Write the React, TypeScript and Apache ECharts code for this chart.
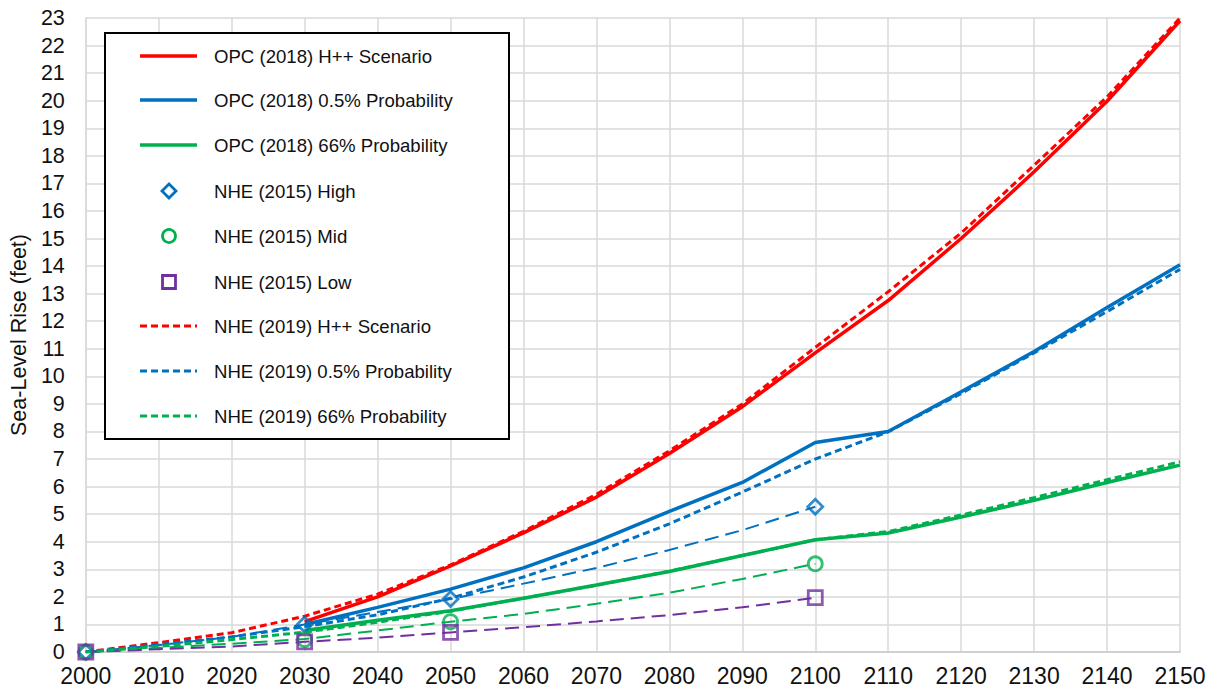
import React, { useEffect, useRef } from "react";
import * as echarts from "echarts";

// ---- data ----
const opcYears = [2030, 2040, 2050, 2060, 2070, 2080, 2090, 2100, 2110, 2120, 2130, 2140, 2150];
const opcHpp = [1.1, 2.0, 3.12, 4.32, 5.62, 7.2, 8.9, 10.85, 12.75, 15.0, 17.42, 19.98, 22.9];
const opcHigh = [1.0, 1.62, 2.28, 3.05, 4.0, 5.1, 6.15, 7.6, 8.0, 9.44, 10.9, 12.5, 14.05];
const opcLow = [0.78, 1.15, 1.5, 1.95, 2.43, 2.92, 3.5, 4.07, 4.32, 4.9, 5.5, 6.15, 6.78];

const nhe19Years = [2000, 2010, 2020, 2030, 2040, 2050, 2060, 2070, 2080, 2090, 2100, 2110, 2120, 2130, 2140, 2150];
const nhe19Hpp = [0, 0.34, 0.7, 1.3, 2.1, 3.16, 4.38, 5.72, 7.3, 9.0, 11.05, 13.07, 15.2, 17.66, 20.14, 23.0];
const nhe19High = [0, 0.27, 0.55, 0.92, 1.35, 1.95, 2.72, 3.62, 4.65, 5.8, 7.0, 7.99, 9.38, 10.85, 12.35, 13.88];
const nhe19Low = [0, 0.2, 0.45, 0.72, 1.08, 1.48, 1.95, 2.42, 2.93, 3.5, 4.07, 4.37, 4.97, 5.6, 6.25, 6.9];

const nhe15LineYears = [2000, 2010, 2020, 2030, 2040, 2050, 2060, 2070, 2080, 2090, 2100];
const nhe15HighLine = [0, 0.25, 0.55, 1.0, 1.45, 1.92, 2.48, 3.05, 3.7, 4.42, 5.27];
const nhe15MidLine = [0, 0.15, 0.3, 0.47, 0.78, 1.1, 1.38, 1.75, 2.15, 2.65, 3.2];
const nhe15LowLine = [0, 0.1, 0.2, 0.37, 0.52, 0.71, 0.9, 1.11, 1.34, 1.62, 1.97];

const nhe15MarkYears = [2000, 2030, 2050, 2100];
const nhe15HighMarks = [0, 1.0, 1.92, 5.27];
const nhe15MidMarks = [0, 0.45, 1.1, 3.2];
const nhe15LowMarks = [0, 0.37, 0.71, 1.97];

const legendNames = [
  "OPC (2018) H++ Scenario",
  "OPC (2018) 0.5% Probability",
  "OPC (2018) 66% Probability",
  "NHE (2015) High",
  "NHE (2015) Mid",
  "NHE (2015) Low",
  "NHE (2019) H++ Scenario",
  "NHE (2019) 0.5% Probability",
  "NHE (2019) 66% Probability",
];

const RED = "#FF0000";
const BLUE = "#0070C0";
const GREEN = "#00B050";
const PURPLE = "#7030A0";
const FONT = "'Liberation Sans', Arial, sans-serif";

const zip = (xs: number[], ys: number[]) => xs.map((x, i) => [x, ys[i]]);

export default function App() {
  const ref = useRef<HTMLDivElement>(null);
  useEffect(() => {
    if (!ref.current) return;
    const chart = echarts.init(ref.current, undefined, { renderer: "svg" });

    const solid = (name: string, color: string, data: number[]) => ({
      name,
      type: "line",
      data: zip(opcYears, data),
      showSymbol: false,
      symbol: "none",
      lineStyle: { color, width: 3.5, type: "solid" },
      itemStyle: { color },
      z: 3,
    });
    const dashed = (name: string, color: string, data: number[]) => ({
      name,
      type: "line",
      data: zip(nhe19Years, data),
      showSymbol: false,
      symbol: "none",
      lineStyle: { color, width: 3, type: [7, 4] },
      itemStyle: { color },
      z: 4,
    });
    const thin = (color: string, data: number[]) => ({
      type: "line",
      data: zip(nhe15LineYears, data),
      showSymbol: false,
      symbol: "none",
      lineStyle: { color, width: 2, type: [14, 7] },
      itemStyle: { color },
      z: 2,
    });
    const marks = (name: string, color: string, symbol: string, size: number, data: number[]) => ({
      name,
      type: "scatter",
      data: zip(nhe15MarkYears, data),
      symbol,
      symbolSize: size,
      itemStyle: { color: "rgba(0,0,0,0)", borderColor: color, borderWidth: 2.8 },
      z: 5,
    });

    // legend drawn as graphics
    const rowY = [56, 100, 145, 191, 236, 282, 326, 371, 416];
    const legendEls: any[] = [
      {
        type: "rect",
        shape: { x: 105, y: 33, width: 404, height: 406 },
        style: { fill: "#fff", stroke: "#000", lineWidth: 2 },
      },
    ];
    const lineItems: [number, string, number[] | null][] = [
      [0, RED, null],
      [1, BLUE, null],
      [2, GREEN, null],
      [6, RED, [7, 4]],
      [7, BLUE, [7, 4]],
      [8, GREEN, [7, 4]],
    ];
    lineItems.forEach(([i, c, dash]) => {
      legendEls.push({
        type: "line",
        shape: { x1: 140, y1: rowY[i], x2: 197, y2: rowY[i] },
        style: { stroke: c, lineWidth: dash ? 3 : 3.5, lineDash: dash || undefined },
      });
    });
    const cx = 169;
    legendEls.push({
      type: "polygon",
      shape: { points: [[cx, rowY[3] - 7], [cx + 7, rowY[3]], [cx, rowY[3] + 7], [cx - 7, rowY[3]]] },
      style: { fill: "none", stroke: BLUE, lineWidth: 2.8 },
    });
    legendEls.push({
      type: "circle",
      shape: { cx, cy: rowY[4], r: 6.5 },
      style: { fill: "none", stroke: GREEN, lineWidth: 2.8 },
    });
    legendEls.push({
      type: "rect",
      shape: { x: cx - 6.5, y: rowY[5] - 6.5, width: 13, height: 13 },
      style: { fill: "none", stroke: PURPLE, lineWidth: 2.8 },
    });
    legendNames.forEach((n, i) => {
      legendEls.push({
        type: "text",
        x: 214,
        y: rowY[i],
        style: {
          text: n,
          font: `18.6px ${FONT}`,
          fill: "#111",
          align: "left",
          verticalAlign: "middle",
        },
      });
    });

    chart.setOption({
      animation: false,
      backgroundColor: "#fff",
      grid: { left: 83, right: 38, top: 18, bottom: 42, containLabel: false },
      xAxis: {
        type: "value",
        min: 2000,
        max: 2150,
        interval: 10,
        axisLine: { show: true, lineStyle: { color: "#D0D0D0", width: 2 } },
        axisTick: { show: false },
        axisLabel: {
          formatter: (v: number) => String(v),
          color: "#111",
          fontSize: 23,
          fontFamily: FONT,
          margin: 12,
        },
        splitLine: { show: true, lineStyle: { color: "#D9D9D9", width: 1.5 } },
      },
      yAxis: {
        type: "value",
        min: 0,
        max: 23,
        interval: 1,
        name: "Sea-Level Rise (feet)",
        nameLocation: "middle",
        nameRotate: 90,
        nameGap: 55,
        nameTextStyle: { color: "#111", fontSize: 21.5, fontFamily: FONT },
        axisLine: { show: true, lineStyle: { color: "#D9D9D9", width: 1.5 } },
        axisTick: { show: false },
        axisLabel: { color: "#111", fontSize: 21.5, fontFamily: FONT, margin: 21 },
        splitLine: { show: true, lineStyle: { color: "#D9D9D9", width: 1.5 } },
      },
      series: [
        thin(BLUE, nhe15HighLine),
        thin(GREEN, nhe15MidLine),
        thin(PURPLE, nhe15LowLine),
        solid(legendNames[0], RED, opcHpp),
        solid(legendNames[1], BLUE, opcHigh),
        solid(legendNames[2], GREEN, opcLow),
        dashed(legendNames[6], RED, nhe19Hpp),
        dashed(legendNames[7], BLUE, nhe19High),
        dashed(legendNames[8], GREEN, nhe19Low),
        marks(legendNames[3], BLUE, "diamond", 15, nhe15HighMarks),
        marks(legendNames[4], GREEN, "circle", 14, nhe15MidMarks),
        marks(legendNames[5], PURPLE, "rect", 14, nhe15LowMarks),
      ],
      graphic: { elements: legendEls.map((e) => ({ ...e, z: 100 })) },
    });
    return () => chart.dispose();
  }, []);
  return (
    <div
      ref={ref}
      style={{ position: "fixed", left: 0, top: 0, width: 1218, height: 694, background: "#fff" }}
    />
  );
}
